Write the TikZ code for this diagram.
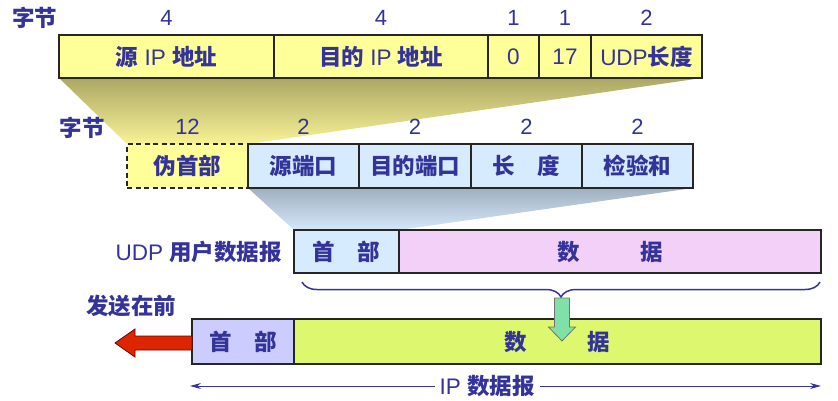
\documentclass[tikz,border=0pt]{standalone}
\usepackage{fontspec}
\setmainfont{Liberation Sans}
\newfontfamily\cjk{Noto Sans CJK SC}
\newcommand{\zh}[1]{{\cjk\bfseries #1}}
\usetikzlibrary{positioning,backgrounds,decorations.pathreplacing,arrows.meta}
\definecolor{txtblue}{RGB}{51,51,153}
\definecolor{celyel}{RGB}{255,255,153}
\definecolor{celblue}{RGB}{214,235,253}
\definecolor{celpink}{RGB}{242,208,248}
\definecolor{cellav}{RGB}{204,204,255}
\definecolor{cellime}{RGB}{221,247,111}
\definecolor{arrred}{RGB}{221,38,0}
\definecolor{arrgreen}{RGB}{128,224,168}
\begin{document}
\begin{tikzpicture}[x=1pt,y=-1pt,
    cell/.style={draw=black!85, line width=1.2pt, inner sep=0pt, outer sep=0pt,
      anchor=west, text=txtblue, font=\fontsize{22.5}{24}\selectfont},
    num/.style={text=txtblue, inner sep=0pt, font=\fontsize{22}{24}\selectfont},
    lbl/.style={text=txtblue, inner sep=0pt, font=\fontsize{22.5}{24}\selectfont}]
  \useasboundingbox (0,0) rectangle (838,400);

  % IP pseudo header fields
  \node[cell, fill=celyel, minimum width=215pt, minimum height=43pt] (s1) at (59,56.5) {\zh{源} IP \zh{地址}};
  \node[cell, fill=celyel, minimum width=214pt, minimum height=43pt] (s2) at (s1.east) {\zh{目的} IP \zh{地址}};
  \node[cell, fill=celyel, minimum width=51pt, minimum height=43pt] (s3) at (s2.east) {0};
  \node[cell, fill=celyel, minimum width=52pt, minimum height=43pt] (s4) at (s3.east) {17};
  \node[cell, fill=celyel, minimum width=111pt, minimum height=43pt] (s5) at (s4.east) {UDP\zh{长度}};
  \node[lbl] (b1) at (35,18) {\zh{字节}};
  \node[num, above=9pt of s1] {4};
  \node[num, above=9pt of s2] {4};
  \node[num, above=9pt of s3] {1};
  \node[num, above=9pt of s4] {1};
  \node[num, above=9pt of s5] {2};

  % UDP header
  \node[cell, fill=celyel, dash pattern=on 5pt off 3.5pt, minimum width=121pt, minimum height=44pt] (h0) at (127,166) {\zh{伪首部}};
  \node[cell, fill=celblue, minimum width=111pt, minimum height=44pt] (h1) at (h0.east) {\zh{源端口}};
  \node[cell, fill=celblue, minimum width=112pt, minimum height=44pt] (h2) at (h1.east) {\zh{目的端口}};
  \node[cell, fill=celblue, minimum width=111pt, minimum height=44pt] (h3) at (h2.east) {\zh{长　度}};
  \node[cell, fill=celblue, minimum width=111pt, minimum height=44pt] (h4) at (h3.east) {\zh{检验和}};
  \node[lbl] (b2) at (82,128) {\zh{字节}};
  \node[num, above=9pt of h0] {12};
  \node[num, above=9pt of h1] {2};
  \node[num, above=9pt of h2] {2};
  \node[num, above=9pt of h3] {2};
  \node[num, above=9pt of h4] {2};

  % UDP datagram
  \node[cell, fill=celblue, minimum width=105pt, minimum height=43pt] (u1) at (294,251.5) {\zh{首　部}};
  \node[cell, fill=celpink, minimum width=422pt, minimum height=43pt] (u2) at (u1.east) {\zh{数\hspace{2.7em}据}};
  \node[lbl, left=12pt of u1] (ul) {UDP \zh{用户数据报}};

  % IP datagram
  \node[cell, fill=cellav, minimum width=102pt, minimum height=45pt] (i1) at (192,341.5) {\zh{首　部}};
  \node[cell, fill=cellime, minimum width=527pt, minimum height=45pt] (i2) at (i1.east) {\zh{数\hspace{2.7em}据}};
  \node[lbl] (il) at (131,306) {\zh{发送在前}};

  % fading shadows
  \begin{scope}[on background layer]
    \shade[top color={rgb,255:red,172;green,168;blue,100}, bottom color={rgb,255:red,248;green,242;blue,150}]
      (s1.south west) -- (s5.south east) -- (h0.north east) -- (h0.north west) -- cycle;
    \shade[top color={rgb,255:red,160;green,176;blue,192}, bottom color={rgb,255:red,212;green,232;blue,250}]
      (h1.south west) -- (h4.south east) -- (u1.north east) -- (u1.north west) -- cycle;
  \end{scope}

  % brace and arrows
  \coordinate (br1) at (302,282);
  \coordinate (br2) at (820,282);
  \draw[txtblue, line width=1.5pt, decorate, decoration={brace, mirror, amplitude=15pt}] (br1) -- (br2);
  \coordinate (gtip) at (562,341);
  \filldraw[fill=arrgreen, draw=black!55, line width=0.8pt]
    (gtip) -- ++(-13.5,-14) -- ++(6,0) -- ++(0,-29) -- ++(15,0) -- ++(0,29) -- ++(6,0) -- cycle;
  \coordinate (rtip) at (115,343);
  \filldraw[fill=arrred, draw=red!45!black, line width=0.8pt]
    (rtip) -- ++(20,-14) -- ++(0,7) -- (i1.west |- 0,336) -- (i1.west |- 0,350) -- ++(-57,0) -- ++(0,7) -- cycle;

  % IP datagram length
  \coordinate (dl) at (190,386);
  \coordinate (dr) at (821,386);
  \draw[txtblue, line width=1pt, {Stealth[length=11pt,width=6pt]}-{Stealth[length=11pt,width=6pt]}] (dl) -- (dr);
  \node[lbl, fill=white, inner xsep=5pt] (ip) at (487,386) {IP \zh{数据报}};
\end{tikzpicture}
\end{document}
